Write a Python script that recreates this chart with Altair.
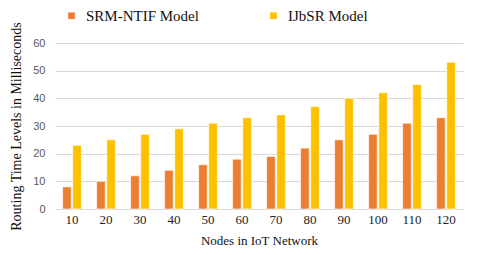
import altair as alt
import pandas as pd

nodes = [10, 20, 30, 40, 50, 60, 70, 80, 90, 100, 110, 120]
srm_ntif = [8, 10, 12, 14, 16, 18, 19, 22, 25, 27, 31, 33]
ijbsr = [23, 25, 27, 29, 31, 33, 34, 37, 40, 42, 45, 53]
series_names = ["SRM-NTIF Model", "IJbSR Model"]
colors = ["#ED7D31", "#FFC000"]

SERIF = "Times New Roman, Liberation Serif, serif"

rows = []
for n, a, b in zip(nodes, srm_ntif, ijbsr):
    rows.append({"Nodes": str(n), "Model": series_names[0], "Value": a})
    rows.append({"Nodes": str(n), "Model": series_names[1], "Value": b})
df = pd.DataFrame(rows)

chart = alt.Chart(df).mark_bar(stroke="white", strokeWidth=0.6).encode(
    x=alt.X("Nodes:N", sort=[str(n) for n in nodes],
            title="Nodes in IoT Network",
            scale=alt.Scale(paddingInner=0.45, paddingOuter=0.225),
            axis=alt.Axis(labelAngle=0, labelFont=SERIF, labelFontSize=13,
                          labelColor="#222222", ticks=False, domain=False, labelPadding=4,
                          titleFont=SERIF, titleFontSize=13, titleFontWeight="normal",
                          titleColor="#111111", titlePadding=8)),
    xOffset=alt.XOffset("Model:N", sort=series_names, scale=alt.Scale(paddingInner=0.15)),
    y=alt.Y("Value:Q", title="Routing Time Levels in Milliseconds",
            scale=alt.Scale(domain=[0, 60]),
            axis=alt.Axis(values=[0, 10, 20, 30, 40, 50, 60], labelFont="Liberation Sans",
                          labelFontSize=11, labelColor="#595959", ticks=False, domain=False,
                          labelPadding=10, gridColor="#d9d9d9", gridWidth=1,
                          titleFont=SERIF, titleFontSize=14, titleFontWeight="normal",
                          titleColor="#111111", titlePadding=9)),
    color=alt.Color("Model:N", sort=series_names,
                    scale=alt.Scale(domain=series_names, range=colors),
                    legend=alt.Legend(title=None, orient="none", direction="horizontal",
                                      legendX=9, legendY=-35, symbolType="square",
                                      symbolSize=45, symbolStrokeWidth=0,
                                      labelFont=SERIF, labelFontSize=15,
                                      labelColor="#111111", columnPadding=67, labelOffset=7)),
).properties(
    width=408, height=166,
    autosize=alt.AutoSizeParams(type="none"),
    padding={"left": 47, "top": 35, "right": 9, "bottom": 38},
).configure_view(stroke=None)

chart.save("out.html", embed_options={"renderer": "svg", "actions": False})
